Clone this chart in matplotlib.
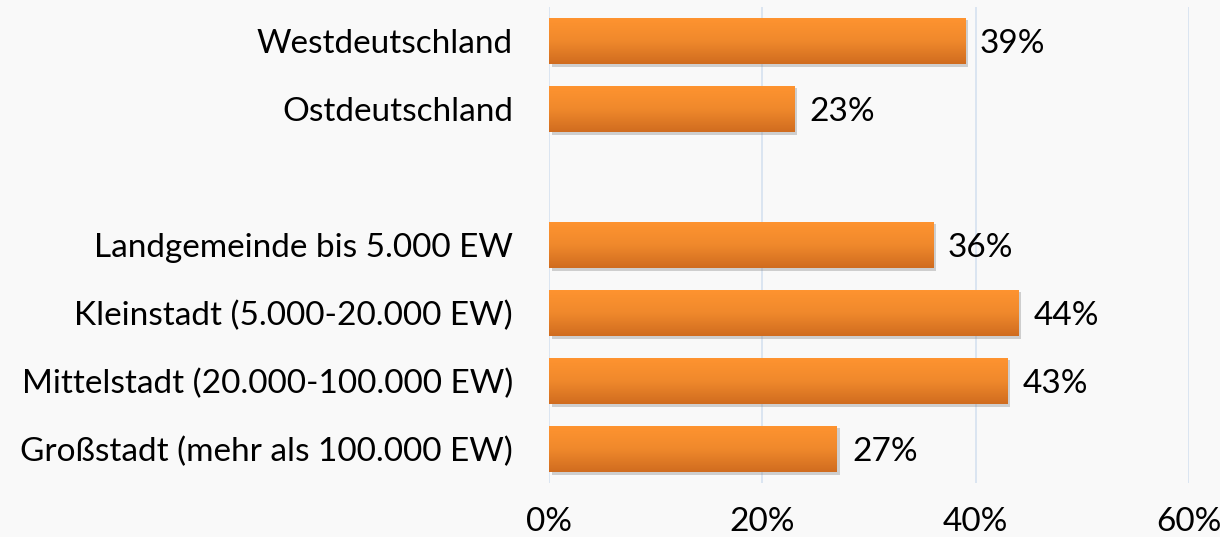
import matplotlib
matplotlib.use("Agg")
import matplotlib.pyplot as plt
import matplotlib.patheffects as pe
import numpy as np
from matplotlib.colors import LinearSegmentedColormap

categories = [
    "Westdeutschland",
    "Ostdeutschland",
    "",
    "Landgemeinde bis 5.000 EW",
    "Kleinstadt (5.000-20.000 EW)",
    "Mittelstadt (20.000-100.000 EW)",
    "Großstadt (mehr als 100.000 EW)",
]
values = [39, 23, None, 36, 44, 43, 27]
xticks = [0, 20, 40, 60]
xtick_labels = ["0%", "20%", "40%", "60%"]

plt.rcParams['font.family'] = ['Lato', 'DejaVu Sans']
FS = 24

fig = plt.figure(figsize=(12.2, 5.37), dpi=100)
bg = "#f9f9f9"
fig.patch.set_facecolor(bg)
ax = fig.add_axes([549/1220, 1 - 483/537, (1189 - 549)/1220, (483 - 7)/537])
ax.set_facecolor(bg)

ypos = np.arange(len(categories))
cmap = LinearSegmentedColormap.from_list("og", ["#ff9430", "#f0892c", "#d06c1f"])
grad = np.linspace(0, 1, 256).reshape(-1, 1)
h = 0.69

for y, v in zip(ypos, values):
    if v is None:
        continue
    bars = ax.barh(y, v, height=h, color="#e88027", zorder=3,
                   path_effects=[pe.SimplePatchShadow(offset=(2, -2), shadow_rgbFace="#808080", alpha=0.35), pe.Normal()])
    patch = bars[0]
    im = ax.imshow(grad, cmap=cmap, aspect="auto", extent=[0, v, y + h/2, y - h/2],
                   zorder=4, interpolation="bilinear")
    im.set_clip_path(patch)
    ax.text(v + 1.4, y + 0.04, f"{v}%", va="center", ha="left", fontsize=FS, color="black", zorder=5)

ax.set_xlim(0, 60)
ax.set_ylim(len(categories) - 0.5, -0.5)
ax.set_yticks(ypos)
ax.set_yticklabels(categories, fontsize=FS)
ax.set_xticks(xticks)
ax.set_xticklabels(xtick_labels, fontsize=FS)
ax.tick_params(axis="both", length=0)
ax.tick_params(axis="y", pad=26)
ax.tick_params(axis="x", pad=17)
ax.grid(axis="x", color="#d6e2f0", linewidth=1.2, zorder=0)
ax.set_axisbelow(True)
for s in ax.spines.values():
    s.set_visible(False)

fig.savefig("out.png", dpi=100, facecolor=bg)
